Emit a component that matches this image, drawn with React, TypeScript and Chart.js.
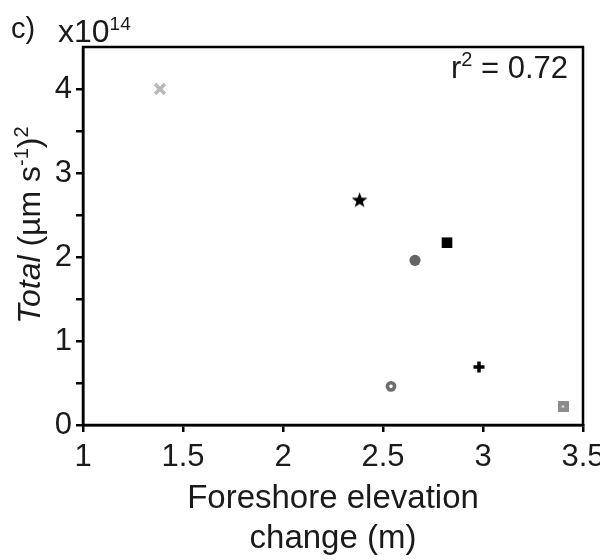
import React, { useEffect, useRef } from "react";
import { Chart, registerables } from "chart.js";

Chart.register(...registerables);

// ---- data (Total variance in units of 1e14 (µm s^-1)^2) ----
const elevationChange = [1.385, 2.383, 2.82, 2.66, 2.54, 2.98, 3.4];
const totalVariance = [4.0, 2.68, 2.17, 1.96, 0.46, 0.69, 0.22];
const markerKinds = ["crossRot", "star", "square", "circle", "ring", "plus", "dotSquare"];
const markerColors = ["#b8b8b8", "#000000", "#000000", "#646464", "#6e6e6e", "#000000", "#8c8c8c"];
const xTicks = [1, 1.5, 2, 2.5, 3, 3.5];
const yTicks = [0, 0.5, 1, 1.5, 2, 2.5, 3, 3.5, 4];
const rSquared = "0.72";

const FONT = "'Liberation Sans', Arial, sans-serif";

function makeCanvas(size: number, draw: (c: CanvasRenderingContext2D, s: number) => void) {
  const cv = document.createElement("canvas");
  cv.width = size;
  cv.height = size;
  const c = cv.getContext("2d")!;
  draw(c, size);
  return cv;
}

function starCanvas(color: string) {
  return makeCanvas(17, (c, s) => {
    const cx = s / 2, cy = s / 2 + 0.6, R = 8.3, r = 3.4;
    c.beginPath();
    for (let i = 0; i < 10; i++) {
      const rad = i % 2 === 0 ? R : r;
      const a = -Math.PI / 2 + (i * Math.PI) / 5;
      const x = cx + rad * Math.cos(a), y = cy + rad * Math.sin(a);
      if (i === 0) c.moveTo(x, y); else c.lineTo(x, y);
    }
    c.closePath();
    c.fillStyle = color;
    c.fill();
  });
}

function dotSquareCanvas(color: string) {
  return makeCanvas(11, (c, s) => {
    c.fillStyle = color;
    c.fillRect(0, 0, s, s);
    c.fillStyle = "#ffffff";
    c.fillRect(4.5, 4.5, 2, 2);
  });
}

function markerStyle(kind: string, color: string): any {
  switch (kind) {
    case "crossRot":
      return { pointStyle: "crossRot", radius: 7, borderWidth: 3.5, borderColor: color, backgroundColor: color };
    case "star":
      return { pointStyle: starCanvas(color), radius: 8 };
    case "square":
      return { pointStyle: "rect", radius: 7.5, borderWidth: 0, backgroundColor: color, borderColor: color };
    case "circle":
      return { pointStyle: "circle", radius: 5.6, borderWidth: 0, backgroundColor: color, borderColor: color };
    case "ring":
      return { pointStyle: "circle", radius: 3.6, borderWidth: 3.6, backgroundColor: "#ffffff", borderColor: color };
    case "plus":
      return { pointStyle: "cross", radius: 5.5, borderWidth: 3.5, borderColor: color, backgroundColor: color };
    case "dotSquare":
    default:
      return { pointStyle: dotSquareCanvas(color), radius: 6 };
  }
}

function drawRuns(
  ctx: CanvasRenderingContext2D,
  runs: { t: string; font: string; dy?: number }[],
  x: number,
  y: number,
  align: "left" | "center" | "right"
) {
  let total = 0;
  for (const r of runs) {
    ctx.font = r.font;
    total += ctx.measureText(r.t).width;
  }
  let cx = align === "left" ? x : align === "center" ? x - total / 2 : x - total;
  for (const r of runs) {
    ctx.font = r.font;
    ctx.fillText(r.t, cx, y + (r.dy || 0));
    cx += ctx.measureText(r.t).width;
  }
}

const annotations = {
  id: "annotations",
  afterDraw(chart: any) {
    const { ctx, chartArea } = chart;
    const { left, right, top, bottom } = chartArea;
    ctx.save();
    // frame
    ctx.strokeStyle = "#000";
    ctx.lineWidth = 2.5;
    ctx.strokeRect(left, top, right - left, bottom - top);
    ctx.fillStyle = "#1a1a1a";
    ctx.textAlign = "left";
    ctx.textBaseline = "alphabetic";
    // panel label and multiplier
    drawRuns(ctx, [{ t: "c)", font: `29px ${FONT}` }], 11, 38, "left");
    drawRuns(
      ctx,
      [
        { t: "x10", font: `32px ${FONT}` },
        { t: "14", font: `19px ${FONT}`, dy: -12 },
      ],
      58,
      42,
      "left"
    );
    // r^2
    drawRuns(
      ctx,
      [
        { t: "r", font: `31px ${FONT}` },
        { t: "2", font: `20px ${FONT}`, dy: -12 },
        { t: " = " + rSquared, font: `31px ${FONT}` },
      ],
      right - 15,
      78,
      "right"
    );
    // x title
    const cxm = (left + right) / 2;
    drawRuns(ctx, [{ t: "Foreshore elevation", font: `33px ${FONT}` }], cxm, 508, "center");
    drawRuns(ctx, [{ t: "change (m)", font: `33px ${FONT}` }], cxm, 548, "center");
    // y title (rotated)
    ctx.translate(40, 225);
    ctx.rotate(-Math.PI / 2);
    drawRuns(
      ctx,
      [
        { t: "Total", font: `italic 32px ${FONT}` },
        { t: " (\u00b5m s", font: `32px ${FONT}` },
        { t: "-1", font: `20px ${FONT}`, dy: -12 },
        { t: ")", font: `32px ${FONT}` },
        { t: "2", font: `20px ${FONT}`, dy: -12 },
      ],
      0,
      0,
      "center"
    );
    ctx.restore();
  },
};

export default function App() {
  const ref = useRef<HTMLCanvasElement | null>(null);

  useEffect(() => {
    if (!ref.current) return;
    const datasets = elevationChange.map((x, i) => ({
      label: markerKinds[i],
      data: [{ x, y: totalVariance[i] }],
      showLine: false,
      ...markerStyle(markerKinds[i], markerColors[i]),
    }));
    const chart = new Chart(ref.current, {
      type: "scatter",
      data: { datasets },
      options: {
        animation: false,
        responsive: false,
        layout: { padding: { top: 47, right: 17, left: 0, bottom: 0 } },
        plugins: { legend: { display: false }, tooltip: { enabled: false } },
        scales: {
          x: {
            type: "linear",
            min: 1,
            max: 3.5,
            afterBuildTicks: (s: any) => {
              s.ticks = xTicks.map((v) => ({ value: v }));
            },
            afterFit: (s: any) => {
              s.height = 135;
              s.paddingLeft = 0;
              s.paddingRight = 0;
            },
            grid: { drawOnChartArea: false, drawTicks: true, tickLength: 7, color: "#000", lineWidth: 2.5 },
            border: { display: true, color: "#000", width: 2.5 },
            ticks: {
              color: "#1a1a1a",
              font: { family: FONT, size: 31 },
              padding: 7,
              maxRotation: 0,
              autoSkip: false,
              callback: (v: any) => String(v),
            },
          },
          y: {
            type: "linear",
            min: 0,
            max: 4.5,
            afterBuildTicks: (s: any) => {
              s.ticks = yTicks.map((v) => ({ value: v }));
            },
            afterFit: (s: any) => {
              s.width = 83;
              s.paddingTop = 0;
              s.paddingBottom = 0;
            },
            grid: { drawOnChartArea: false, drawTicks: true, tickLength: 7, color: "#000", lineWidth: 2.5 },
            border: { display: true, color: "#000", width: 2.5 },
            ticks: {
              color: "#1a1a1a",
              font: { family: FONT, size: 31 },
              padding: 4,
              autoSkip: false,
              callback: (v: any) => (Number.isInteger(v) ? String(v) : ""),
            },
          },
        },
      },
      plugins: [annotations],
    });
    return () => chart.destroy();
  }, []);

  return (
    <div style={{ position: "fixed", left: 0, top: 0, width: 600, height: 560, background: "#fff" }}>
      <canvas ref={ref} width={600} height={560} style={{ width: 600, height: 560, display: "block" }} />
    </div>
  );
}
